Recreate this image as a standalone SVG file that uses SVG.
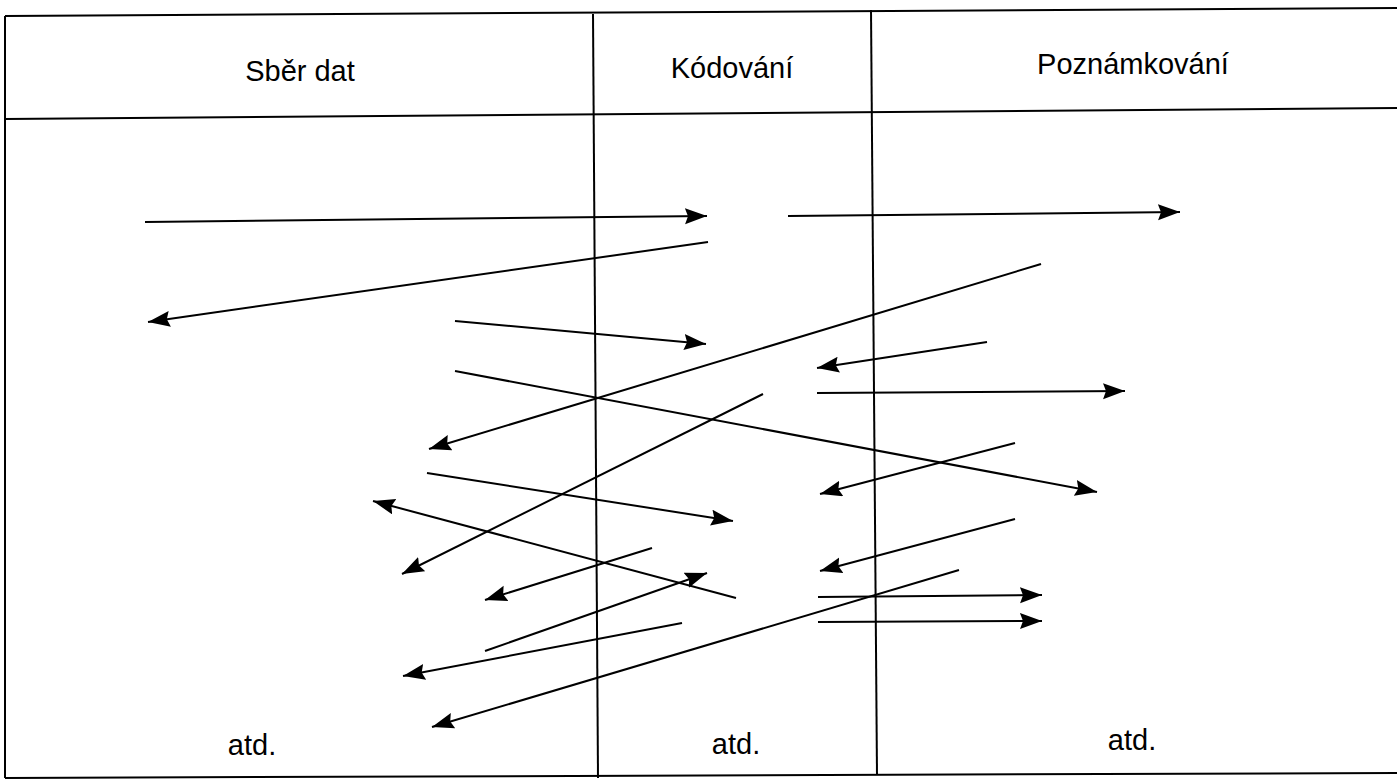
<svg xmlns="http://www.w3.org/2000/svg" width="1397" height="779" viewBox="0 0 1397 779">
  <style>
    .grid { stroke: #000; stroke-width: 2; fill: none; }
    .hdr { font-family: "Liberation Sans", Arial, sans-serif; font-size: 29px; fill: #000; text-anchor: middle; }
    .arr { stroke: #000; stroke-width: 2; fill: none; marker-end: url(#ah); }
  </style>
  <defs>
    <marker id="ah" markerUnits="userSpaceOnUse" markerWidth="24" markerHeight="18" refX="22" refY="8" orient="auto">
      <path d="M0,0 L22,8 L0,16 L3,8 z" fill="#000"/>
    </marker>
  </defs>
  <rect width="1397" height="779" fill="#fff"/>

  <g id="table">
    <line class="grid" x1="5" y1="16" x2="1397" y2="8"/>
    <line class="grid" x1="5" y1="119" x2="1397" y2="108"/>
    <line class="grid" x1="5" y1="778" x2="1397" y2="773"/>
    <line class="grid" x1="5" y1="16" x2="5" y2="778"/>
    <line class="grid" x1="593" y1="14" x2="598" y2="778"/>
    <line class="grid" x1="871" y1="10" x2="877" y2="775"/>
  </g>

  <g id="col-sber-dat">
    <text class="hdr" x="300" y="81">Sběr dat</text>
    <text class="hdr" x="252" y="755">atd.</text>
  </g>
  <g id="col-kodovani">
    <text class="hdr" x="732" y="78">Kódování</text>
    <text class="hdr" x="736" y="754">atd.</text>
  </g>
  <g id="col-poznamkovani">
    <text class="hdr" x="1133" y="74">Poznámkování</text>
    <text class="hdr" x="1132" y="750">atd.</text>
  </g>

  <g id="connectors">
    <line class="arr" x1="145" y1="222" x2="707" y2="216"/>
    <line class="arr" x1="708" y1="242" x2="148" y2="322"/>
    <line class="arr" x1="455" y1="321" x2="706" y2="344"/>
    <line class="arr" x1="788" y1="216" x2="1180" y2="212"/>
    <line class="arr" x1="1041" y1="264" x2="429" y2="449"/>
    <line class="arr" x1="987" y1="342" x2="817" y2="368"/>
    <line class="arr" x1="817" y1="393" x2="1125" y2="391"/>
    <line class="arr" x1="455" y1="371" x2="1097" y2="492"/>
    <line class="arr" x1="763" y1="394" x2="402" y2="574"/>
    <line class="arr" x1="427" y1="473" x2="733" y2="521"/>
    <line class="arr" x1="1015" y1="443" x2="820" y2="494"/>
    <line class="arr" x1="736" y1="598" x2="373" y2="501"/>
    <line class="arr" x1="652" y1="548" x2="485" y2="600"/>
    <line class="arr" x1="485" y1="651" x2="707" y2="573"/>
    <line class="arr" x1="682" y1="623" x2="403" y2="676"/>
    <line class="arr" x1="1015" y1="519" x2="820" y2="571"/>
    <line class="arr" x1="959" y1="570" x2="432" y2="727"/>
    <line class="arr" x1="818" y1="597" x2="1042" y2="595"/>
    <line class="arr" x1="818" y1="622" x2="1042" y2="621"/>
  </g>
</svg>
